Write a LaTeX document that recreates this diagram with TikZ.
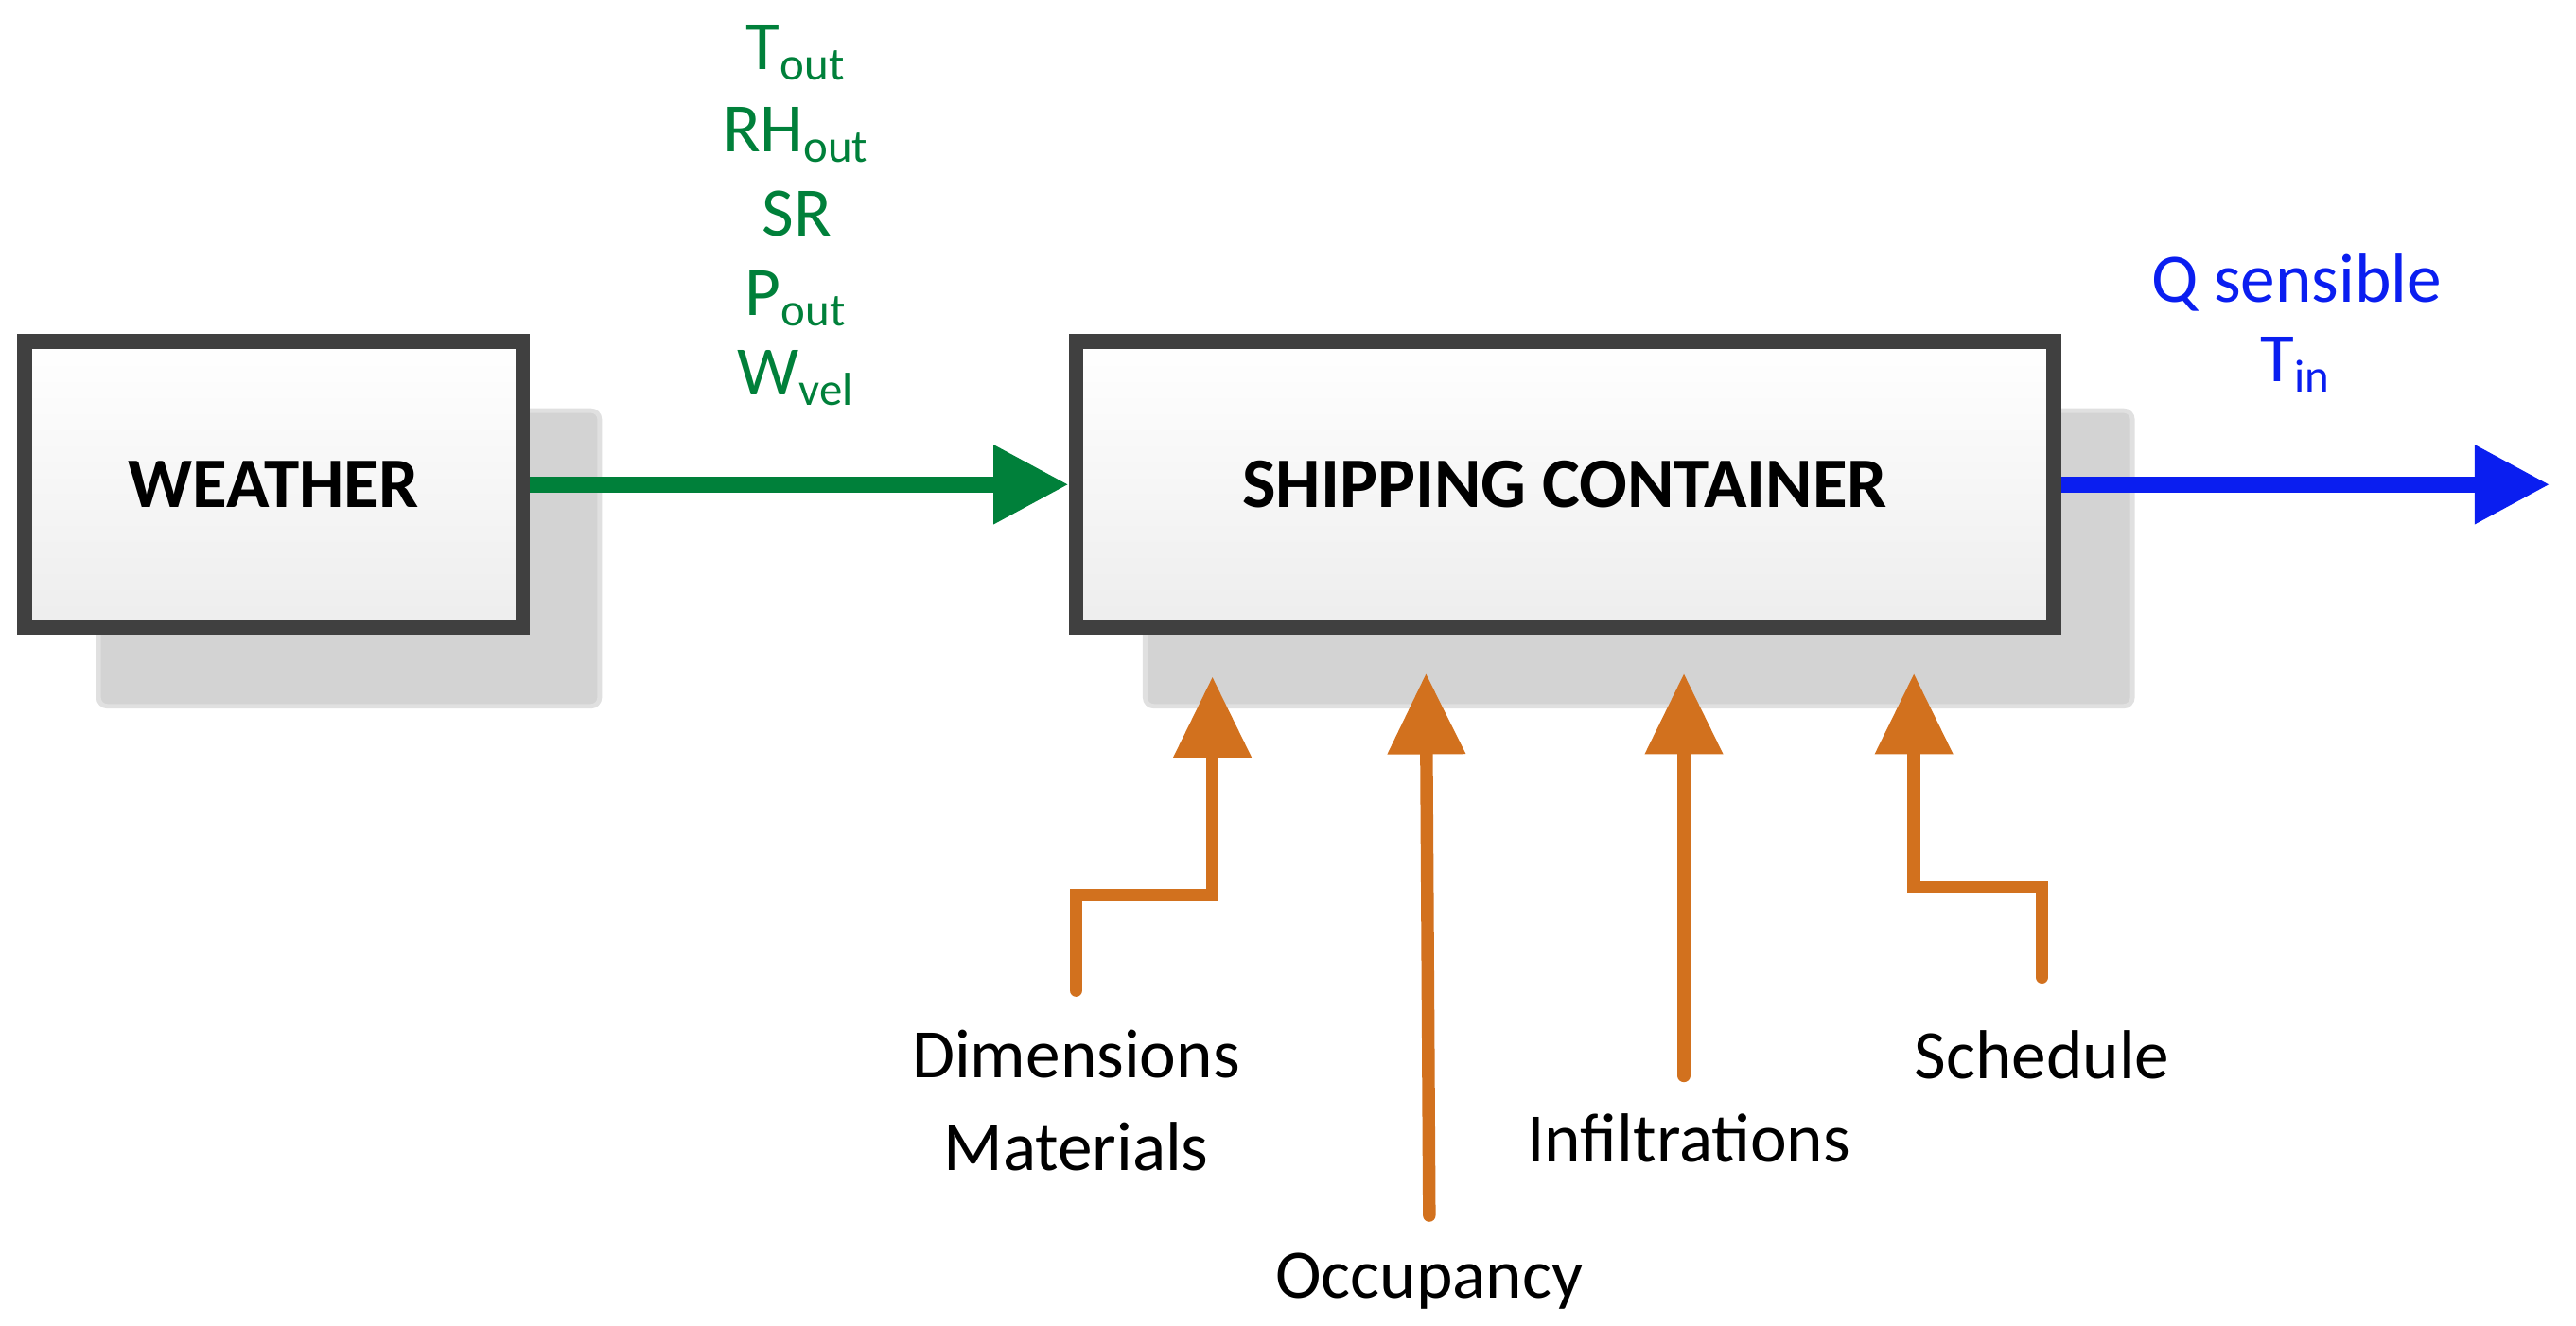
\documentclass[tikz,border=0pt]{standalone}
\usepackage{fontspec}
\setmainfont{Carlito}
\usetikzlibrary{arrows.meta,positioning,calc}

\definecolor{boxline}{HTML}{404040}
\definecolor{shade}{HTML}{D3D3D3}
\definecolor{wgreen}{HTML}{00803A}
\definecolor{qblue}{HTML}{0A1EF0}
\definecolor{inorange}{HTML}{D2711E}

\begin{document}
\begin{tikzpicture}[
    x=0.01cm, y=-0.01cm,
    block/.style = {rectangle, draw=boxline, line width=2.5pt, top color=white, bottom color=black!7, font=\fontsize{12.3}{15}\selectfont\bfseries, inner sep=0pt},
    shadow/.style = {fill=shade, draw=black!12, line width=0.8pt, rounded corners=1.5pt},
    feed/.style = {line width=2.8pt, -{Triangle[width=13pt,length=13pt]}},
    green label/.style = {text=wgreen, font=\fontsize{12}{14}\selectfont},
    out label/.style = {text=qblue, font=\fontsize{12}{14}\selectfont},
    input/.style = {line width=2.2pt, inorange, line cap=round, -{Triangle[width=13pt,length=14pt]}},
    in label/.style = {font=\fontsize{12}{14}\selectfont}
]
    \useasboundingbox (0,0) rectangle (1568,807);
    % shadows behind the blocks
    \draw[shadow] (60,250) rectangle (365,430);
    \draw[shadow] (697,250) rectangle (1298,430);
    \node[block, minimum width=3.03cm, minimum height=1.74cm] (weather) at (166.5,295) {WEATHER};
    \node[block, minimum width=5.95cm, minimum height=1.74cm] (container) at (952.5,295) {SHIPPING CONTAINER};

    % weather variables
    \node[green label] (tout) at (485,32) {T\textsubscript{out}};
    \node[green label] (rhout) at (485,82) {RH\textsubscript{out}};
    \node[green label] (sr) at (485,130) {SR};
    \node[green label] (pout) at (485,182) {P\textsubscript{out}};
    \node[green label] (wvel) at (485,230) {W\textsubscript{vel}};
    \draw[feed, wgreen] (weather) -- (container);

    % outputs
    \coordinate (out) at (1552,295);
    \node[out label] (qsens) at (1398,172) {Q sensible};
    \node[out label] (tin) at (1398,222) {T\textsubscript{in}};
    \draw[feed, qblue] (container.east) -- (out);

    % inputs
    \node[in label, align=center] (dims) at (655,670) {Dimensions\\[2pt]Materials};
    \node[in label] (occ) at (870,780) {Occupancy};
    \node[in label] (infil) at (1028,693) {Infiltrations};
    \node[in label] (sched) at (1243,642) {Schedule};
    \coordinate (dimsend) at (655,603);
    \coordinate (occend) at (870,740);
    \coordinate (infilend) at (1025,655);
    \coordinate (schedend) at (1243,595);
    \coordinate (dimstip) at (738,412);
    \coordinate (occtip) at (868,410);
    \coordinate (infiltip) at (1025,410);
    \coordinate (schedtip) at (1165,410);
    \draw[input] (dimsend) |- (738,545) -- (dimstip);
    \draw[input] (occend) -- (occtip);
    \draw[input] (infilend) -- (infiltip);
    \draw[input] (schedend) |- (1165,540) -- (schedtip);
\end{tikzpicture}
\end{document}
